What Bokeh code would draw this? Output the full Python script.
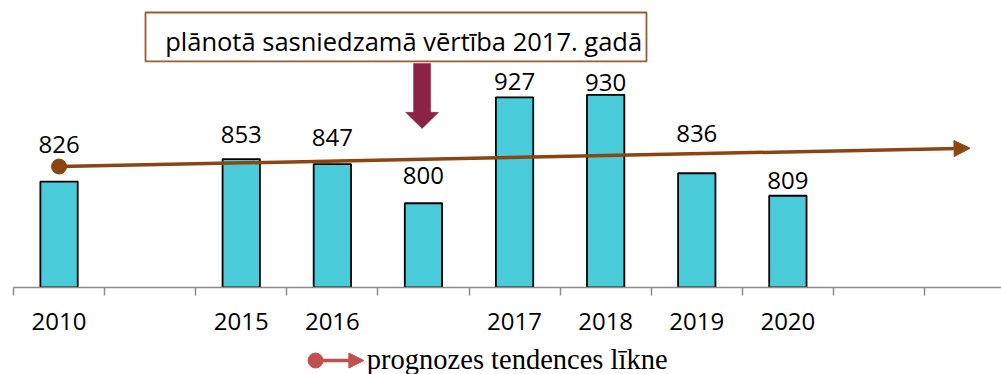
from bokeh.plotting import figure
from bokeh.layouts import column
from bokeh.models import (Range1d, FixedTicker, LabelSet, ColumnDataSource,
                          Arrow, NormalHead, BoxAnnotation, Label)
from bokeh.core.properties import value
from bokeh.embed import file_html
from bokeh.resources import INLINE

# --- data -------------------------------------------------------------
# one slot per category; blank slots keep the spacing of the time axis
categories = ["2010", "", "2015", "2016", "", "2017", "2018", "2019", "2020", "", ""]
values = [826, None, 853, 847, 800, 927, 930, 836, 809, None, None]
# planned value is the unlabelled bar in slot 4
planned_slot = 4
# forecast trend line: start (first slot) and end (last slot) values
trend_values = [844, 866]

# --- styling / placement ---------------------------------------------
label_lift = {0: 29, 2: 16, 3: 18, 4: 19, 5: 7, 6: 4, 7: 31, 8: 7}  # px above bar top
BAR_COLOR = "#4ACBDA"
TREND_COLOR = "#8B4513"
CALLOUT_COLOR = "#8B2346"
LEGEND_COLOR = "#C0504D"
FONT = "Open Sans"

Y0, Y1 = 699, 1043.1
n = len(categories)

p = figure(width=1001, height=345, output_backend="svg", toolbar_location=None,
           x_range=Range1d(0, 10.845), y_range=Range1d(Y0, Y1),
           min_border_left=13, min_border_right=0, min_border_top=0,
           min_border_bottom=58, outline_line_color=None)
p.yaxis.visible = False
p.grid.visible = False

xs, tops, texts, offs = [], [], [], []
for i, v in enumerate(values):
    if v is None:
        continue
    xs.append(i + 0.5)
    tops.append(v)
    texts.append(str(v))
    offs.append(label_lift[i])
src = ColumnDataSource(dict(x=xs, top=tops, text=texts, off=offs))

p.vbar(x="x", top="top", bottom=Y0, width=0.41, source=src,
       fill_color=BAR_COLOR, line_color="black", line_width=1.8)

p.add_layout(LabelSet(x="x", y="top", text="text", y_offset="off", source=src,
                      text_align="center", text_baseline="alphabetic",
                      text_font=value(FONT), text_font_size=value("24px"),
                      text_color="black"))

# x axis: labels at slot centres, tick marks at slot boundaries
ax = p.xaxis[0]
ax.ticker = FixedTicker(ticks=[i + 0.5 for i in range(n)],
                        minor_ticks=list(range(n + 1)))
ax.major_label_overrides = {i + 0.5: c for i, c in enumerate(categories)}
ax.major_tick_out = 0
ax.major_tick_in = 0
ax.minor_tick_out = 8
ax.minor_tick_in = 0
ax.axis_line_color = "#8C8C8C"
ax.axis_line_width = 1.5
ax.minor_tick_line_color = "#8C8C8C"
ax.minor_tick_line_width = 1.5
ax.major_label_standoff = 17
ax.major_label_text_font = FONT
ax.major_label_text_font_size = "24px"
ax.major_label_text_color = "black"

# trend line with arrow head and start marker
p.add_layout(Arrow(x_start=0.5, y_start=trend_values[0], x_end=n - 0.5, y_end=trend_values[1],
                   line_color=TREND_COLOR, line_width=3.5,
                   end=NormalHead(size=16, fill_color=TREND_COLOR, line_color=TREND_COLOR)))
p.scatter([0.5], [trend_values[0]], size=15, color=TREND_COLOR)

# callout box
p.add_layout(BoxAnnotation(left=1.449, right=6.948, bottom=970, top=1028.7,
                           fill_color="white", fill_alpha=1, line_color="#9C5A2E",
                           line_alpha=1, line_width=1.8, level="overlay"))
p.add_layout(Label(x=1.665, y=994.4, text="plānotā sasniedzamā vērtība 2017. gadā",
                   text_font=FONT, text_font_size="25.5px", text_color="black",
                   text_baseline="alphabetic", level="overlay"))

# callout arrow pointing down to the planned value
cx = planned_slot + 0.485
shaft_w, head_w = 0.187, 0.362
shaft_top, head_base, tip = 967.6, 909, 889.6
p.patch([cx - shaft_w / 2, cx + shaft_w / 2, cx + shaft_w / 2, cx + head_w / 2, cx,
         cx - head_w / 2, cx - shaft_w / 2],
        [shaft_top, shaft_top, head_base, head_base, tip, head_base, head_base],
        fill_color=CALLOUT_COLOR, line_color=CALLOUT_COLOR, line_width=0.5)

# legend strip
lg = figure(width=1001, height=29, output_backend="svg", toolbar_location=None,
            x_range=Range1d(0, 1001), y_range=Range1d(29, 0),
            min_border=0, outline_line_color=None)
lg.axis.visible = False
lg.grid.visible = False
lg.segment([306], [15], [345], [15], line_color=LEGEND_COLOR, line_width=3.5)
lg.scatter([306], [15], size=15, color=LEGEND_COLOR)
lg.add_layout(Arrow(x_start=340, y_start=15, x_end=355, y_end=15, line_color=LEGEND_COLOR,
                    line_width=3.5,
                    end=NormalHead(size=15, fill_color=LEGEND_COLOR, line_color=LEGEND_COLOR)))
lg.text([358], [14], text=["prognozes tendences līkne"], text_font=value("Liberation Serif"),
        text_font_size=value("28.5px"), text_baseline="alphabetic", text_color="black")

layout = column(p, lg, spacing=0)
open("out.html", "w").write(file_html(layout, INLINE))
